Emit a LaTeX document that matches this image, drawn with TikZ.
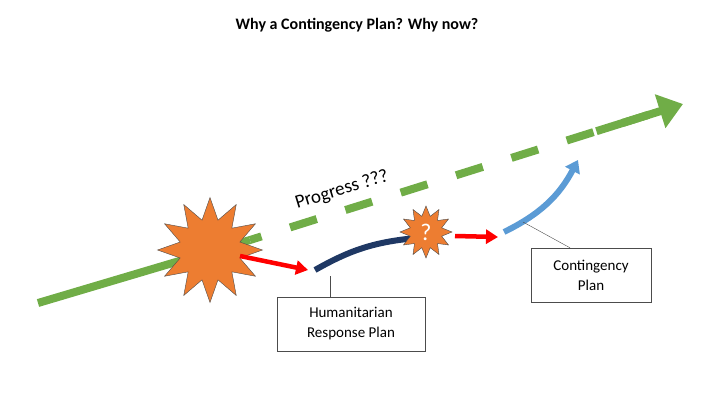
\documentclass[tikz,border=0pt]{standalone}
\usepackage{fontspec}
\setmainfont{Carlito}
\usetikzlibrary{arrows.meta,shapes.geometric,calc}
\definecolor{progress}{RGB}{112,173,71}
\definecolor{burst}{RGB}{237,125,49}
\definecolor{navyplan}{RGB}{31,56,100}
\definecolor{blueplan}{RGB}{91,155,213}
\begin{document}
\begin{tikzpicture}
  [x=1pt,y=-1pt,
   trend/.style={progress,line width=8pt},
   shock/.style={star,star points=12,star point ratio=1.7,fill=burst,draw=black!70,thin},
   push/.style={red,line width=4.5pt,-{Triangle[length=12pt,width=14pt]}},
   label box/.style={draw=black!70,fill=white,align=center,font=\fontsize{15}{20}\selectfont,inner sep=6pt}]

  \useasboundingbox (0,0) rectangle (720,405);
  \node[font=\fontsize{16}{20}\selectfont\bfseries] (title) at (357,25) {Why a Contingency Plan? Why now?};

  % progress line
  \coordinate (p0) at (38,303);
  \coordinate (p1) at (250,240);
  \coordinate (p2) at (683,104);
  \draw[trend] (p0) -- (p1);
  \draw[trend,dash pattern=on 28pt off 30pt,dash phase=-42pt] (p1) -- ($(p1)!0.93!(p2)$);
  \draw[trend,-{Triangle[length=24pt,width=34pt]}] ($(p1)!0.8!(p2)$) -- (p2);
  \node[rotate=17,font=\fontsize{19}{22}\selectfont] (progress) at (342,190) {Progress ???};

  % shocks and plans
  \node[shock,minimum size=105pt] (crisis) at (210,250) {};
  \draw[push] (240,256) -- (308,270);
  \coordinate (hrp0) at (315,270);
  \coordinate (hrp1) at (416,238);
  \draw[navyplan,line width=6pt] (hrp0) to[bend left=12] (hrp1);
  \node[shock,minimum size=52pt,star point ratio=1.6] (shock2) at (426,232) {};
  \node[white,font=\fontsize{24}{26}\selectfont] at (shock2) {?};
  \draw[push] (455,236) -- (498,237);
  \coordinate (cp0) at (504,232);
  \coordinate (cp1) at (578,160);
  \draw[blueplan,line width=6pt,-{Triangle[length=12pt,width=16pt]}] (cp0) to[bend right=18] (cp1);

  % labels
  \node[label box,minimum width=148pt,minimum height=54pt] (hrp) at (351,324) {Humanitarian\\Response Plan};
  \node[label box,minimum width=120pt,minimum height=54pt] (cp) at (591,275) {Contingency\\Plan};
  \coordinate (hrpend) at (330,276);
  \coordinate (cpend) at (523,222);
  \draw[black!70] (hrp.north -| hrpend) -- (hrpend);
  \draw[black!70] (cp.north -| 570,0) -- (cpend);
\end{tikzpicture}
\end{document}
